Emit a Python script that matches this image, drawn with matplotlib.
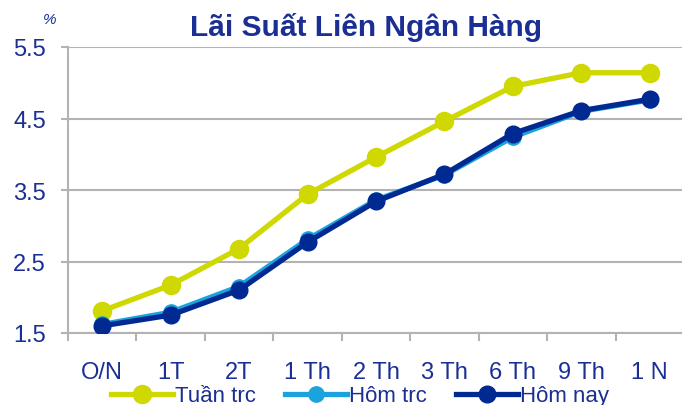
import matplotlib
matplotlib.use("Agg")
import matplotlib.pyplot as plt
from matplotlib.ticker import FixedLocator, NullFormatter

categories = ["O/N", "1T", "2T", "1 Th", "2 Th", "3 Th", "6 Th", "9 Th", "1 N"]
tuan_trc = [1.81, 2.17, 2.68, 3.44, 3.96, 4.46, 4.95, 5.14, 5.14]
hom_trc = [1.62, 1.79, 2.15, 2.81, 3.36, 3.71, 4.24, 4.60, 4.76]
hom_nay = [1.60, 1.75, 2.10, 2.77, 3.34, 3.72, 4.29, 4.61, 4.77]
yticks = [1.5, 2.5, 3.5, 4.5, 5.5]
series_names = ["Tuần trc", "Hôm trc", "Hôm nay"]

TEXT = "#1a2e94"
YELLOW = "#cfd800"
LIGHT = "#1aa3dd"
NAVY = "#002a92"
GRID = "#b3b3b3"

plt.rcParams['font.family'] = ['Liberation Sans', 'DejaVu Sans']

fig = plt.figure(figsize=(6.82, 4.06), dpi=100)
ax = fig.add_axes([68/682, 1-334/406, 616/682, 286/406])

x = list(range(len(categories)))
ax.plot(x, tuan_trc, color=YELLOW, lw=3.8, marker='o', ms=13, label=series_names[0], zorder=3)
ax.plot(x, hom_trc, color=LIGHT, lw=3.8, marker='o', ms=11, label=series_names[1], zorder=4)
ax.plot(x, hom_nay, color=NAVY, lw=3.8, marker='o', ms=12, label=series_names[2], zorder=5)

ax.set_xlim(-0.5, len(categories) - 0.5)
ax.set_ylim(1.5, 5.5)
ax.set_yticks(yticks)
ax.set_yticklabels([f"{v:.1f}" for v in yticks])
ax.yaxis.grid(True, color=GRID, lw=1.5)
ax.set_axisbelow(True)

ax.xaxis.set_major_locator(FixedLocator([i + 0.5 for i in range(-1, len(categories))]))
ax.xaxis.set_major_formatter(NullFormatter())
ax.xaxis.set_minor_locator(FixedLocator(x))
ax.set_xticklabels(categories, minor=True)
ax.tick_params(axis='x', which='major', length=6, width=1.5, color=GRID, direction='out')
ax.tick_params(axis='x', which='minor', length=0, pad=20, labelsize=17, labelcolor=TEXT)
ax.tick_params(axis='y', length=5, width=1.5, color=GRID, pad=11, labelsize=17, labelcolor=TEXT)

for s in ['top', 'right']:
    ax.spines[s].set_visible(False)
for s in ['left', 'bottom']:
    ax.spines[s].set_color(GRID)
    ax.spines[s].set_linewidth(1.5)

fig.text(366/682, 1-28/406, "Lãi Suất Liên Ngân Hàng", ha='center', va='center',
         fontsize=21.5, fontweight='bold', color=TEXT)
fig.text(50/682, 1-20/406, "%", ha='center', va='center', fontsize=11,
         style='italic', color=TEXT)

leg = fig.legend(loc='center', bbox_to_anchor=(360/682, 1-397/406), ncol=3, frameon=False,
                 fontsize=16, handlelength=2.8, handletextpad=0.1, columnspacing=1.3,
                 borderpad=0, borderaxespad=0)
for t in leg.get_texts():
    t.set_color(TEXT)

fig.savefig("out.png", dpi=100)
